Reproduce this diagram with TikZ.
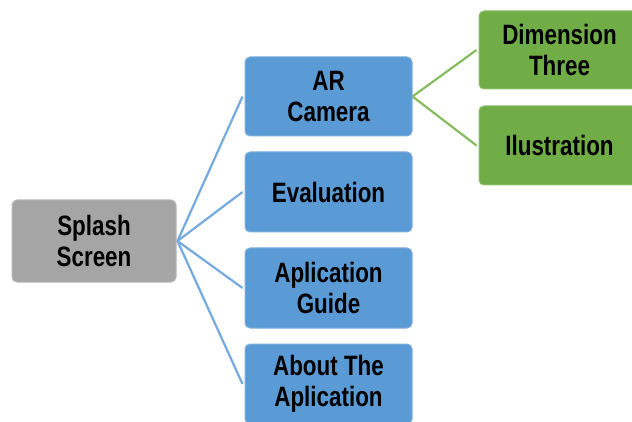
\documentclass[tikz,border=0pt]{standalone}
\usepackage{fontspec}
\newfontfamily\boxfont[FakeStretch=0.80]{Liberation Sans}
\definecolor{graybox}{HTML}{A5A5A5}
\definecolor{bluebox}{HTML}{5B9BD5}
\definecolor{greenbox}{HTML}{70AD47}
\definecolor{blueline}{HTML}{74AADD}
\definecolor{greenline}{HTML}{86BC5E}
\begin{document}
\begin{tikzpicture}[x=1pt,y=-1pt,
  box/.style={rounded corners=5pt, align=center, inner sep=0pt,
    font=\boxfont\bfseries\fontsize{28}{31}\selectfont, text=black},
  graynode/.style={box, fill=graybox, draw=graybox!80!white, line width=1pt},
  bluenode/.style={box, fill=bluebox, draw=bluebox!80!white, line width=1pt, minimum width=167pt},
  greennode/.style={box, fill=greenbox, draw=greenbox!80!white, line width=1pt, minimum width=161pt},
  bconn/.style={draw=blueline, line width=2.2pt},
  gconn/.style={draw=greenline, line width=2.2pt}]
\useasboundingbox (0,0) rectangle (632,422);
\node[graynode, minimum width=164pt, minimum height=82pt] (splash) at (94,241) {Splash\\Screen};
\node[bluenode, minimum height=79pt] (ar) at (328.5,96.5) {AR\\Camera};
\node[bluenode, minimum height=80pt] (eval) at (328.5,192) {Evaluation};
\node[bluenode, minimum height=80pt] (guide) at (328.5,288) {Aplication\\Guide};
\node[bluenode, minimum height=80pt] (about) at (328.5,384) {About The\\Aplication};
\node[greennode, minimum height=78pt] (dim) at (559.5,50) {Dimension\\Three};
\node[greennode, minimum height=79pt] (ilu) at (559.5,145.5) {Ilustration};
\coordinate (sp) at ([xshift=1pt]splash.east);
\coordinate (arp) at ([xshift=0pt]ar.east);
\foreach \n in {ar,eval,guide,about}{
  \draw[bconn] (sp) -- ([xshift=-2pt]\n.west);
}
\draw[gconn] (arp) -- ([xshift=-2pt]dim.west);
\draw[gconn] (arp) -- ([xshift=-2pt]ilu.west);
\end{tikzpicture}
\end{document}
